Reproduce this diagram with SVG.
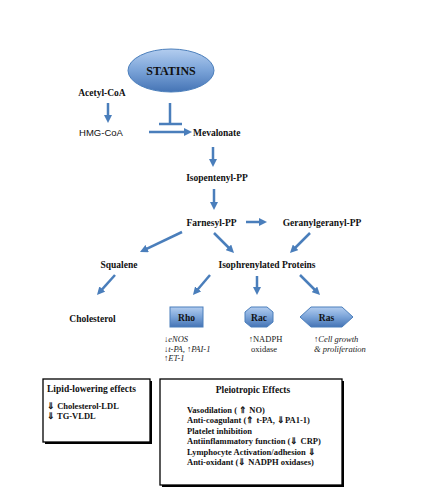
<svg xmlns="http://www.w3.org/2000/svg" width="442" height="497" viewBox="0 0 442 497">
<defs>
<linearGradient id="gBlue" x1="0" y1="0" x2="0" y2="1">
<stop offset="0" stop-color="#b3cdef"/>
<stop offset="0.5" stop-color="#7aa3d8"/>
<stop offset="1" stop-color="#4574b5"/>
</linearGradient>
<marker id="ah" viewBox="0 0 8 8" markerWidth="8" markerHeight="8" markerUnits="userSpaceOnUse" refX="3" refY="4" orient="auto">
<path d="M0,0 L8,4 L0,8 z" fill="#4a7ebb"/>
</marker>
</defs>
<style>
.lbl{font-family:"Liberation Serif","Times New Roman",serif;font-weight:bold;font-size:9.5px;fill:#111;}
.sans{font-family:"Liberation Sans",Arial,sans-serif;font-size:9.5px;fill:#111;}
.it{font-family:"Liberation Serif","Times New Roman",serif;font-style:italic;font-size:8.5px;fill:#222;}
.rg{font-family:"Liberation Serif","Times New Roman",serif;font-size:8.5px;fill:#222;}
.box{fill:#fff;stroke:#000;stroke-width:1.3;}
.shadow{fill:#000;}
.bt{font-family:"Liberation Serif","Times New Roman",serif;font-weight:bold;font-size:8.5px;fill:#111;}
.shape{fill:url(#gBlue);stroke:#4a7ebb;stroke-width:1;}
.arr{stroke:#4a7ebb;stroke-width:2.5;fill:none;marker-end:url(#ah);}
.inh{stroke:#4a7ebb;stroke-width:2.5;fill:none;}
</style>
<rect width="442" height="497" fill="#fff"/>

<g id="statins">
<ellipse cx="171" cy="70.5" rx="43" ry="21.5" class="shape"/>
<text x="171" y="75" text-anchor="middle" class="lbl" style="font-size:12px">STATINS</text>
</g>
<g id="acetyl-coa"><text x="102" y="95.5" text-anchor="middle" class="lbl">Acetyl-CoA</text></g>
<g id="hmg-coa"><text x="101" y="135.5" text-anchor="middle" class="sans">HMG-CoA</text></g>
<g id="mevalonate"><text x="193" y="135.5" class="lbl">Mevalonate</text></g>
<g id="isopentenyl-pp"><text x="217" y="180.5" text-anchor="middle" class="lbl">Isopentenyl-PP</text></g>
<g id="farnesyl-pp"><text x="211.5" y="225.5" text-anchor="middle" class="lbl">Farnesyl-PP</text></g>
<g id="geranylgeranyl-pp"><text x="322" y="225.5" text-anchor="middle" class="lbl">Geranylgeranyl-PP</text></g>
<g id="squalene"><text x="119" y="267.5" text-anchor="middle" class="lbl">Squalene</text></g>
<g id="isoprenylated"><text x="267" y="267.5" text-anchor="middle" class="lbl">Isophrenylated Proteins</text></g>
<g id="cholesterol"><text x="92.5" y="321.5" text-anchor="middle" class="lbl">Cholesterol</text></g>

<g id="rho">
<rect x="170" y="307" width="33" height="20" class="shape"/>
<text x="186.5" y="320.5" text-anchor="middle" class="lbl">Rho</text>
<text x="164" y="342" class="it">↓eNOS</text>
<text x="164" y="351.5" class="it">↓t-PA, ↑PAI-1</text>
<text x="164" y="361" class="it">↑ET-1</text>
</g>
<g id="rac">
<path d="M251,307 L267,307 L273,312 L273,322 L267,327 L251,327 L245,322 L245,312 Z" class="shape" stroke-linejoin="round"/>
<text x="259" y="320.5" text-anchor="middle" class="lbl">Rac</text>
<text x="265.5" y="342" text-anchor="middle" class="rg">↑NADPH</text>
<text x="264" y="351.5" text-anchor="middle" class="rg">oxidase</text>
</g>
<g id="ras">
<path d="M300,317 L311,307 L342,307 L353,317 L342,327 L311,327 Z" class="shape"/>
<text x="326.5" y="320.5" text-anchor="middle" class="lbl">Ras</text>
<text x="314" y="342" class="it">↑Cell growth</text>
<text x="314" y="351.5" class="it">&amp; proliferation</text>
</g>

<g id="lipid-box">
<rect x="45" y="381" width="107" height="63" class="shadow"/>
<rect x="43" y="379" width="107" height="63" class="box"/>
<text x="47" y="391.5" class="lbl">Lipid-lowering effects</text>
<text x="47" y="409" class="bt">⇓ Cholesterol-LDL</text>
<text x="47" y="419" class="bt">⇓ TG-VLDL</text>
</g>
<g id="pleiotropic-box">
<rect x="162" y="381" width="182" height="106" class="shadow"/>
<rect x="160" y="379" width="182" height="106" class="box"/>
<text x="253" y="393" text-anchor="middle" class="lbl">Pleiotropic Effects</text>
<text x="187" y="412.5" class="bt">Vasodilation ( ⇑ NO)</text>
<text x="187" y="423" class="bt">Anti-coagulant (⇑ t-PA, ⇓PA1-1)</text>
<text x="187" y="433.5" class="bt">Platelet inhibition</text>
<text x="187" y="444" class="bt">Antiinflammatory function (⇓ CRP)</text>
<text x="187" y="454.5" class="bt">Lymphocyte Activation/adhesion ⇓</text>
<text x="187" y="465" class="bt">Anti-oxidant (⇓ NADPH oxidases)</text>
</g>

<g id="connectors">
<line x1="108" y1="103" x2="108" y2="118" class="arr"/>
<line x1="170" y1="103" x2="170" y2="124" class="inh"/>
<line x1="159" y1="124" x2="182" y2="124" class="inh"/>
<line x1="149" y1="132" x2="187" y2="132" class="arr"/>
<line x1="213" y1="147" x2="213" y2="162" class="arr"/>
<line x1="214" y1="189" x2="214" y2="205" class="arr"/>
<line x1="246" y1="222" x2="262" y2="222" class="arr"/>
<line x1="182" y1="232" x2="144.5" y2="249.8" class="arr"/>
<line x1="214" y1="233" x2="230.5" y2="249.5" class="arr"/>
<line x1="310" y1="233" x2="293.5" y2="249.5" class="arr"/>
<line x1="115" y1="275" x2="100.3" y2="291.3" class="arr"/>
<line x1="210" y1="275" x2="196.2" y2="291.2" class="arr"/>
<line x1="257" y1="276" x2="257" y2="290" class="arr"/>
<line x1="300" y1="275" x2="316.5" y2="291.5" class="arr"/>
</g>
</svg>
